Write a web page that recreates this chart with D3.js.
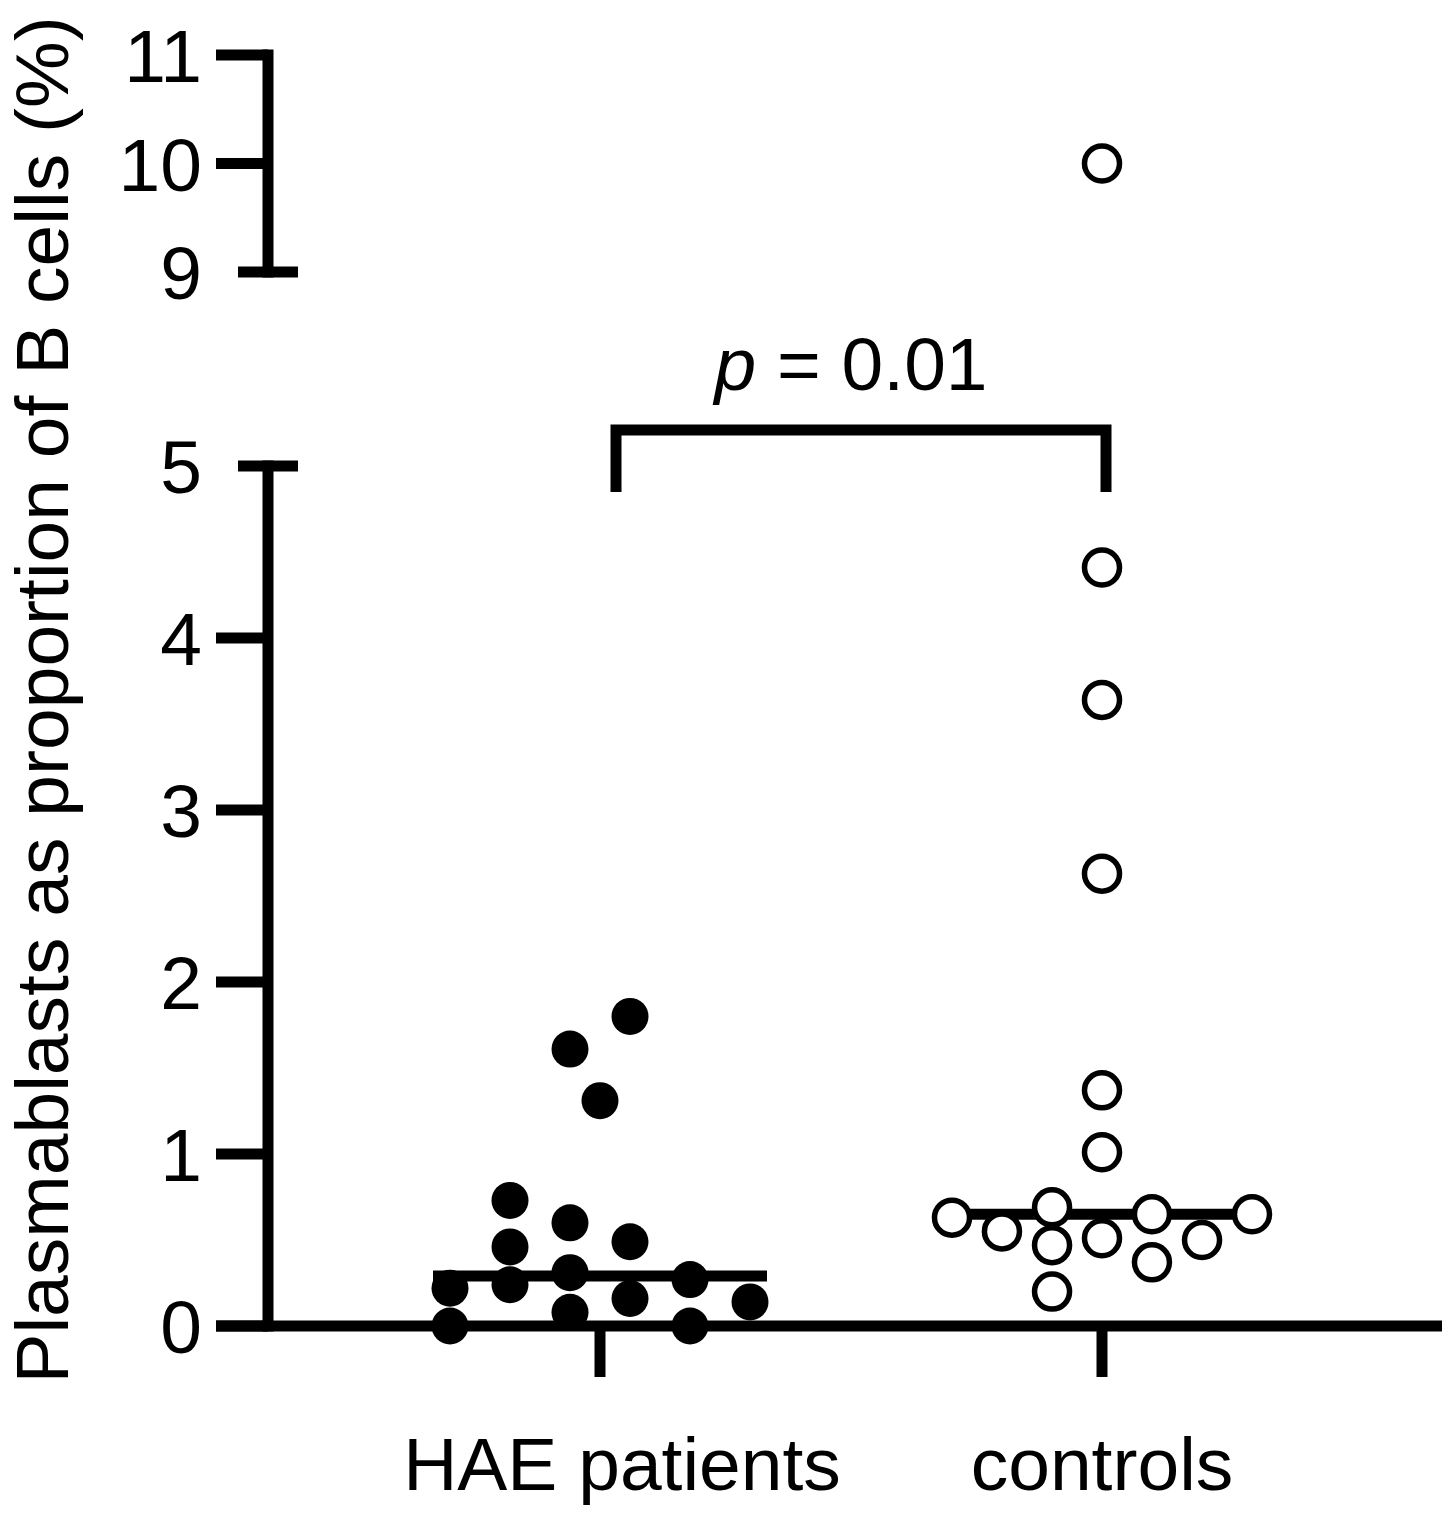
<!DOCTYPE html>
<html>
<head>
<meta charset="utf-8">
<script src="https://cdn.jsdelivr.net/npm/d3@7"></script>
<style>
  body { margin: 0; background: #fff; }
  text { font-family: Arial, "Liberation Sans", sans-serif; fill: #000; }
</style>
</head>
<body>
<svg id="chart"></svg>
<script>
// groups on the x axis
const groups = ["HAE patients", "controls"];

// HAE patients, values (%) and swarm column (-1..1)
const haeValues = [1.80, 1.61, 1.31, 0.73, 0.60, 0.49, 0.46, 0.31, 0.27, 0.22, 0.24, 0.16, 0.14, 0.08, 0.00, 0.00];
const haeColumn = [0.2, -0.2, 0, -0.6, -0.2, 0.2, -0.6, -0.2, 0.6, -1, -0.6, 0.2, 1, -0.2, -1, 0.6];

// controls
const ctrlValues = [10.0, 4.41, 3.64, 2.63, 1.37, 1.01, 0.63, 0.55, 0.69, 0.47, 0.20, 0.51, 0.65, 0.37, 0.50, 0.65];
const ctrlColumn = [0, 0, 0, 0, 0, 0, -1, -0.667, -0.333, -0.333, -0.333, 0, 0.333, 0.333, 0.667, 1];

// medians drawn as lines
const medians = [0.29, 0.65];

// broken y axis: two segments
const lowerTicks = [0, 1, 2, 3, 4, 5];
const upperTicks = [9, 10, 11];

const pLabel = "0.01";
const yLabel = "Plasmablasts as proportion of B cells (%)";

const width = 1454, height = 1519;
const lw = 11;          // line width of axes, ticks, medians
const axisX = 268;
const tickLen = 52;

const svg = d3.select("#chart")
    .attr("width", width)
    .attr("height", height);

const yLow = d3.scaleLinear().domain([0, 5]).range([1326, 466]);
const yUp = d3.scaleLinear().domain([9, 11]).range([272, 55]);
const x = d3.scalePoint().domain(groups).range([600, 1102]);
const jitter = d3.scaleLinear().domain([-1, 1]).range([-150, 150]);

// y axis segments
function drawYAxis(scale, ticks, capValue) {
  const g = svg.append("g")
      .attr("transform", `translate(${axisX},0)`)
      .call(d3.axisLeft(scale)
        .tickValues(ticks)
        .tickFormat(d3.format("d"))
        .tickSize(tickLen)
        .tickSizeOuter(0)
        .tickPadding(14)
        .offset(0));
  g.select(".domain")
      .attr("stroke", "#000")
      .attr("stroke-width", lw)
      .attr("stroke-linecap", "square");
  g.selectAll(".tick line")
      .attr("stroke", "#000")
      .attr("stroke-width", lw)
      .attr("x2", d => d === capValue ? -30 : -tickLen)
      .attr("x1", d => d === capValue ? 30 : 0);
  g.selectAll(".tick text")
      .attr("font-size", 75)
      .attr("font-family", "Arial, 'Liberation Sans', sans-serif")
      .attr("x", -(tickLen + 14))
      .attr("dy", "0.36em");
}
drawYAxis(yLow, lowerTicks, 5);
drawYAxis(yUp, upperTicks, 9);

// x axis
const xg = svg.append("g")
    .attr("transform", `translate(0,${yLow(0)})`)
    .call(d3.axisBottom(x).tickSize(51).tickSizeOuter(0).tickFormat("").offset(0));
xg.select(".domain").remove();
xg.selectAll(".tick line").attr("stroke", "#000").attr("stroke-width", lw);
xg.append("line")
    .attr("x1", axisX - tickLen).attr("x2", 1442)
    .attr("stroke", "#000").attr("stroke-width", lw);

// group labels
svg.append("g").selectAll("text")
  .data(groups)
  .join("text")
    .attr("x", (d, i) => x(d) + (i === 0 ? 22 : 0))
    .attr("y", 1490)
    .attr("text-anchor", "middle")
    .attr("font-size", 75)
    .text(d => d);

// y label
svg.append("text")
    .attr("transform", "translate(68,700) rotate(-90)")
    .attr("text-anchor", "middle")
    .attr("font-size", 75)
    .text(yLabel);

// median lines
svg.append("g").selectAll("line")
  .data(medians)
  .join("line")
    .attr("x1", (d, i) => x(groups[i]) - 167)
    .attr("x2", (d, i) => x(groups[i]) + 167)
    .attr("y1", d => yLow(d))
    .attr("y2", d => yLow(d))
    .attr("stroke", "#000")
    .attr("stroke-width", lw);

const yOf = v => v > 5 ? yUp(v) : yLow(v);

// HAE points, filled
svg.append("g").selectAll("circle")
  .data(haeValues.map((v, i) => ({v, c: haeColumn[i]})))
  .join("circle")
    .attr("cx", d => x(groups[0]) + jitter(d.c))
    .attr("cy", d => yOf(d.v))
    .attr("r", 18.5)
    .attr("fill", "#000");

// controls, open circles
svg.append("g").selectAll("circle")
  .data(ctrlValues.map((v, i) => ({v, c: ctrlColumn[i]})))
  .join("circle")
    .attr("cx", d => x(groups[1]) + jitter(d.c))
    .attr("cy", d => yOf(d.v))
    .attr("r", 17.5)
    .attr("fill", "#fff")
    .attr("stroke", "#000")
    .attr("stroke-width", 5.5);

// significance bracket
const bx1 = x(groups[0]) + 16, bx2 = x(groups[1]) + 4;
const bTop = 430, bBottom = 492;
svg.append("path")
    .attr("d", d3.line()([[bx1, bBottom], [bx1, bTop], [bx2, bTop], [bx2, bBottom]]))
    .attr("fill", "none")
    .attr("stroke", "#000")
    .attr("stroke-width", lw)
    .attr("stroke-linejoin", "miter");

const pt = svg.append("text")
    .attr("x", (bx1 + bx2) / 2 - 10)
    .attr("y", 390)
    .attr("text-anchor", "middle")
    .attr("font-size", 75);
pt.append("tspan").attr("font-style", "italic").text("p");
pt.append("tspan").text(" = " + pLabel);
</script>
</body>
</html>
